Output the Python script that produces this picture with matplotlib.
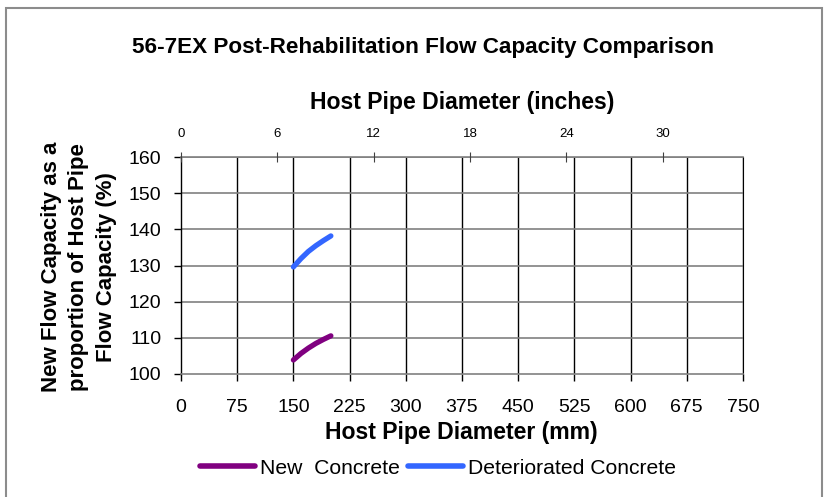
import matplotlib
matplotlib.use("Agg")
import matplotlib.pyplot as plt
from matplotlib.patches import Rectangle
from matplotlib.lines import Line2D

plt.rcParams['font.family'] = ['Liberation Sans', 'DejaVu Sans']

# Host pipe diameter (mm) and resulting flow capacity (% of host pipe)
diameter_mm = [150, 160, 170, 180, 190, 200]
new_concrete = [103.8, 105.6, 107.1, 108.4, 109.5, 110.5]
deteriorated_concrete = [129.6, 131.9, 133.9, 135.5, 136.9, 138.2]

series_names = ["New  Concrete", "Deteriorated Concrete"]
series_colors = ["#800080", "#3366FF"]

x_ticks_mm = list(range(0, 751, 75))
y_ticks = list(range(100, 161, 10))
top_ticks_in = [0, 6, 12, 18, 24, 30]

W, H = 828, 497
fig = plt.figure(figsize=(W / 100, H / 100), dpi=100)

# outer chart frame
fig.patches.append(Rectangle((6 / W, -0.01), (822 - 6) / W, 1 - 8 / H + 0.01,
                             transform=fig.transFigure, fill=False,
                             edgecolor="#8c8c8c", linewidth=1.5))

left, right, top, bottom = 181, 743, 157.3, 373.7
ax = fig.add_axes([left / W, 1 - bottom / H, (right - left) / W, (bottom - top) / H])

ax.plot(diameter_mm, new_concrete, color=series_colors[0], lw=3.8, solid_capstyle="round")
ax.plot(diameter_mm, deteriorated_concrete, color=series_colors[1], lw=3.8, solid_capstyle="round")

ax.set_xlim(0, 750)
ax.set_ylim(100, 160)
ax.set_xticks(x_ticks_mm)
ax.set_yticks(y_ticks)
ax.tick_params(axis="both", labelsize=14, length=5, width=1, color="black")
ax.tick_params(axis="x", pad=13)
ax.tick_params(axis="y", pad=9)
for xv in x_ticks_mm[1:]:
    ax.axvline(xv, color="black", lw=1, zorder=0)
for yv in y_ticks[1:]:
    ax.axhline(yv, color="#808080", lw=1.2, zorder=0)
for s in ["top", "bottom"]:
    ax.spines[s].set_color("#808080")
    ax.spines[s].set_linewidth(1.2)
ax.spines["right"].set_color("black")
ax.spines["left"].set_color("black")
ax.spines["left"].set_linewidth(1)

fig.text(461 / W, 1 - 432 / H, "Host Pipe Diameter (mm)", ha="center", va="center",
         fontsize=16.6, fontweight="bold")
fig.text(79 / W, 1 - 267 / H,
         "New Flow Capacity as a\nproportion of Host Pipe\nFlow Capacity (%)",
         ha="center", va="center", rotation=90, multialignment="center",
         fontsize=16, fontweight="bold", linespacing=1.42)

# secondary inch axis along the top
ax2 = ax.twiny()
ax2.set_xlim(0, 35)
ax2.set_xticks(top_ticks_in)
ax2.tick_params(axis="x", labelsize=9.5, direction="inout", length=7, width=0.8,
                color="#404040", pad=9)
for s in ["top", "bottom", "right", "left"]:
    ax2.spines[s].set_visible(False)
fig.text(462 / W, 1 - 103 / H, "Host Pipe Diameter (inches)", ha="center", va="center",
         fontsize=16.6, fontweight="bold")

fig.text(423 / W, 1 - 47 / H, "56-7EX Post-Rehabilitation Flow Capacity Comparison",
         ha="center", va="center", fontsize=16.2, fontweight="bold")

handles = [Line2D([], [], color=c, lw=4, solid_capstyle="round") for c in series_colors]
fig.legend(handles, series_names, loc="center", bbox_to_anchor=(438 / W, 1 - 468 / H),
           ncol=2, frameon=False, fontsize=15.2, handlelength=2.6, handletextpad=0.25,
           columnspacing=0.4, borderpad=0, borderaxespad=0)

fig.savefig("out.png", dpi=100)
